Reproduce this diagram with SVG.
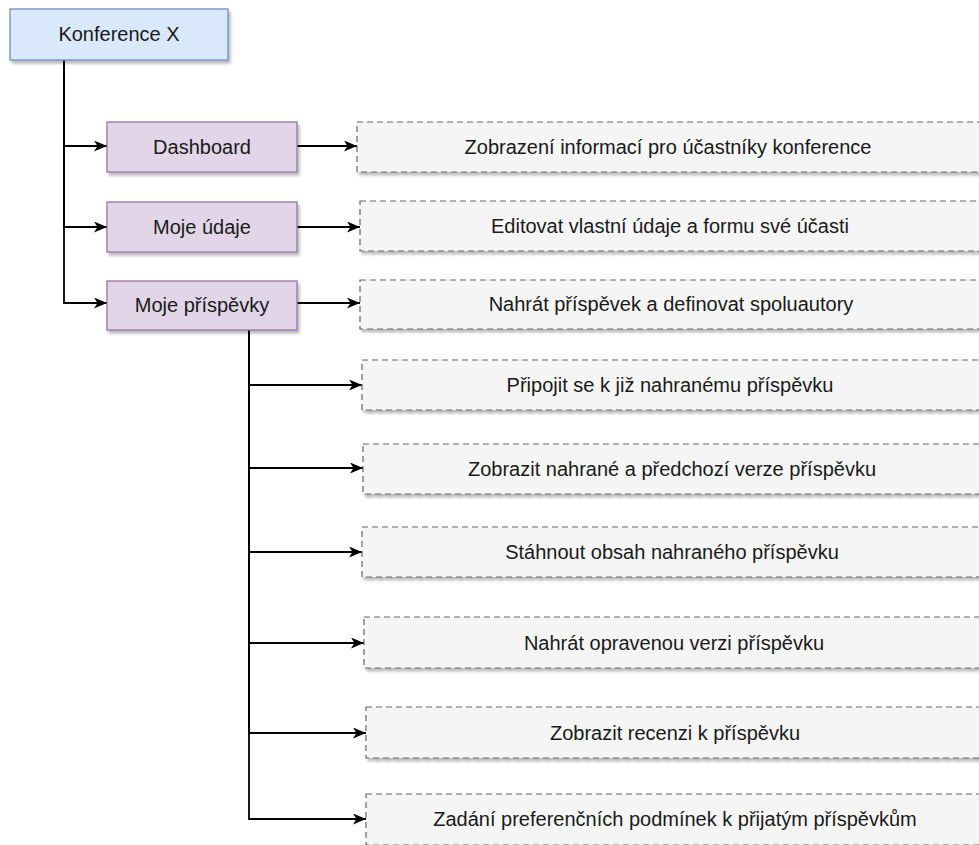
<svg xmlns="http://www.w3.org/2000/svg" width="979" height="845" viewBox="0 0 979 845">
  <defs>
    <filter id="shadow" x="-5%" y="-20%" width="115%" height="160%">
      <feGaussianBlur in="SourceAlpha" stdDeviation="1.4"/>
      <feOffset dx="2" dy="3" result="b"/>
      <feComponentTransfer><feFuncA type="linear" slope="0.28"/></feComponentTransfer>
      <feMerge><feMergeNode/><feMergeNode in="SourceGraphic"/></feMerge>
    </filter>
    <marker id="arrow" viewBox="0 0 13 11" refX="13" refY="5.5" markerWidth="13" markerHeight="11" markerUnits="userSpaceOnUse" orient="auto">
      <path d="M0,0 L13,5.5 L0,11 L3.5,5.5 Z" fill="#000"/>
    </marker>
  </defs>
  <style>
    text { font-family: "Liberation Sans", Arial, Helvetica, sans-serif; font-size: 20px; fill: #1a1a1a; text-anchor: middle; }
    .root { fill: #dae8fc; stroke: #6c8ebf; stroke-width: 1.3; filter: url(#shadow); }
    .menu { fill: #e1d5e7; stroke: #9673a6; stroke-width: 1.3; filter: url(#shadow); }
    .task { fill: #f5f5f5; stroke: #666666; stroke-width: 1.2; stroke-dasharray: 6 4; filter: url(#shadow); }
    .edge { fill: none; stroke: #000; stroke-width: 1.8; marker-end: url(#arrow); }
  </style>
  <rect width="979" height="845" fill="#ffffff"/>

  <g id="connectors">
    <path class="edge" d="M64,60 V146 H107"/>
    <path class="edge" d="M64,60 V227 H107"/>
    <path class="edge" d="M64,60 V303 H107"/>
    <path class="edge" d="M297,146 H357"/>
    <path class="edge" d="M297,227 H360"/>
    <path class="edge" d="M297,303 H360"/>
    <path class="edge" d="M249,330 V385 H362"/>
    <path class="edge" d="M249,330 V468 H363"/>
    <path class="edge" d="M249,330 V552 H362"/>
    <path class="edge" d="M249,330 V643 H364"/>
    <path class="edge" d="M249,330 V733 H366"/>
    <path class="edge" d="M249,330 V819 H366"/>
  </g>

  <g id="konference">
    <rect class="root" x="10" y="9" width="218" height="51"/>
    <text x="119" y="41">Konference X</text>
  </g>

  <g id="dashboard">
    <rect class="menu" x="107" y="122" width="190" height="50"/>
    <text x="202" y="154">Dashboard</text>
  </g>
  <g id="moje-udaje">
    <rect class="menu" x="107" y="202" width="190" height="50"/>
    <text x="202" y="234">Moje údaje</text>
  </g>
  <g id="moje-prispevky">
    <rect class="menu" x="107" y="281" width="190" height="49"/>
    <text x="202" y="312">Moje příspěvky</text>
  </g>

  <g id="task-1">
    <rect class="task" x="357" y="122" width="630" height="50"/>
    <text x="668" y="154">Zobrazení informací pro účastníky konference</text>
  </g>
  <g id="task-2">
    <rect class="task" x="360" y="201" width="627" height="50"/>
    <text x="670" y="233">Editovat vlastní údaje a formu své účasti</text>
  </g>
  <g id="task-3">
    <rect class="task" x="360" y="280" width="627" height="49"/>
    <text x="671" y="311">Nahrát příspěvek a definovat spoluautory</text>
  </g>
  <g id="task-4">
    <rect class="task" x="362" y="360" width="625" height="50"/>
    <text x="670" y="392">Připojit se k již nahranému příspěvku</text>
  </g>
  <g id="task-5">
    <rect class="task" x="363" y="444" width="624" height="50"/>
    <text x="672" y="476">Zobrazit nahrané a předchozí verze příspěvku</text>
  </g>
  <g id="task-6">
    <rect class="task" x="362" y="527" width="625" height="50"/>
    <text x="672" y="559">Stáhnout obsah nahraného příspěvku</text>
  </g>
  <g id="task-7">
    <rect class="task" x="364" y="617" width="623" height="51"/>
    <text x="674" y="650">Nahrát opravenou verzi příspěvku</text>
  </g>
  <g id="task-8">
    <rect class="task" x="366" y="707" width="621" height="51"/>
    <text x="675" y="740">Zobrazit recenzi k příspěvku</text>
  </g>
  <g id="task-9">
    <rect class="task" x="366" y="794" width="621" height="51"/>
    <text x="675" y="826">Zadání preferenčních podmínek k přijatým příspěvkům</text>
  </g>
</svg>
